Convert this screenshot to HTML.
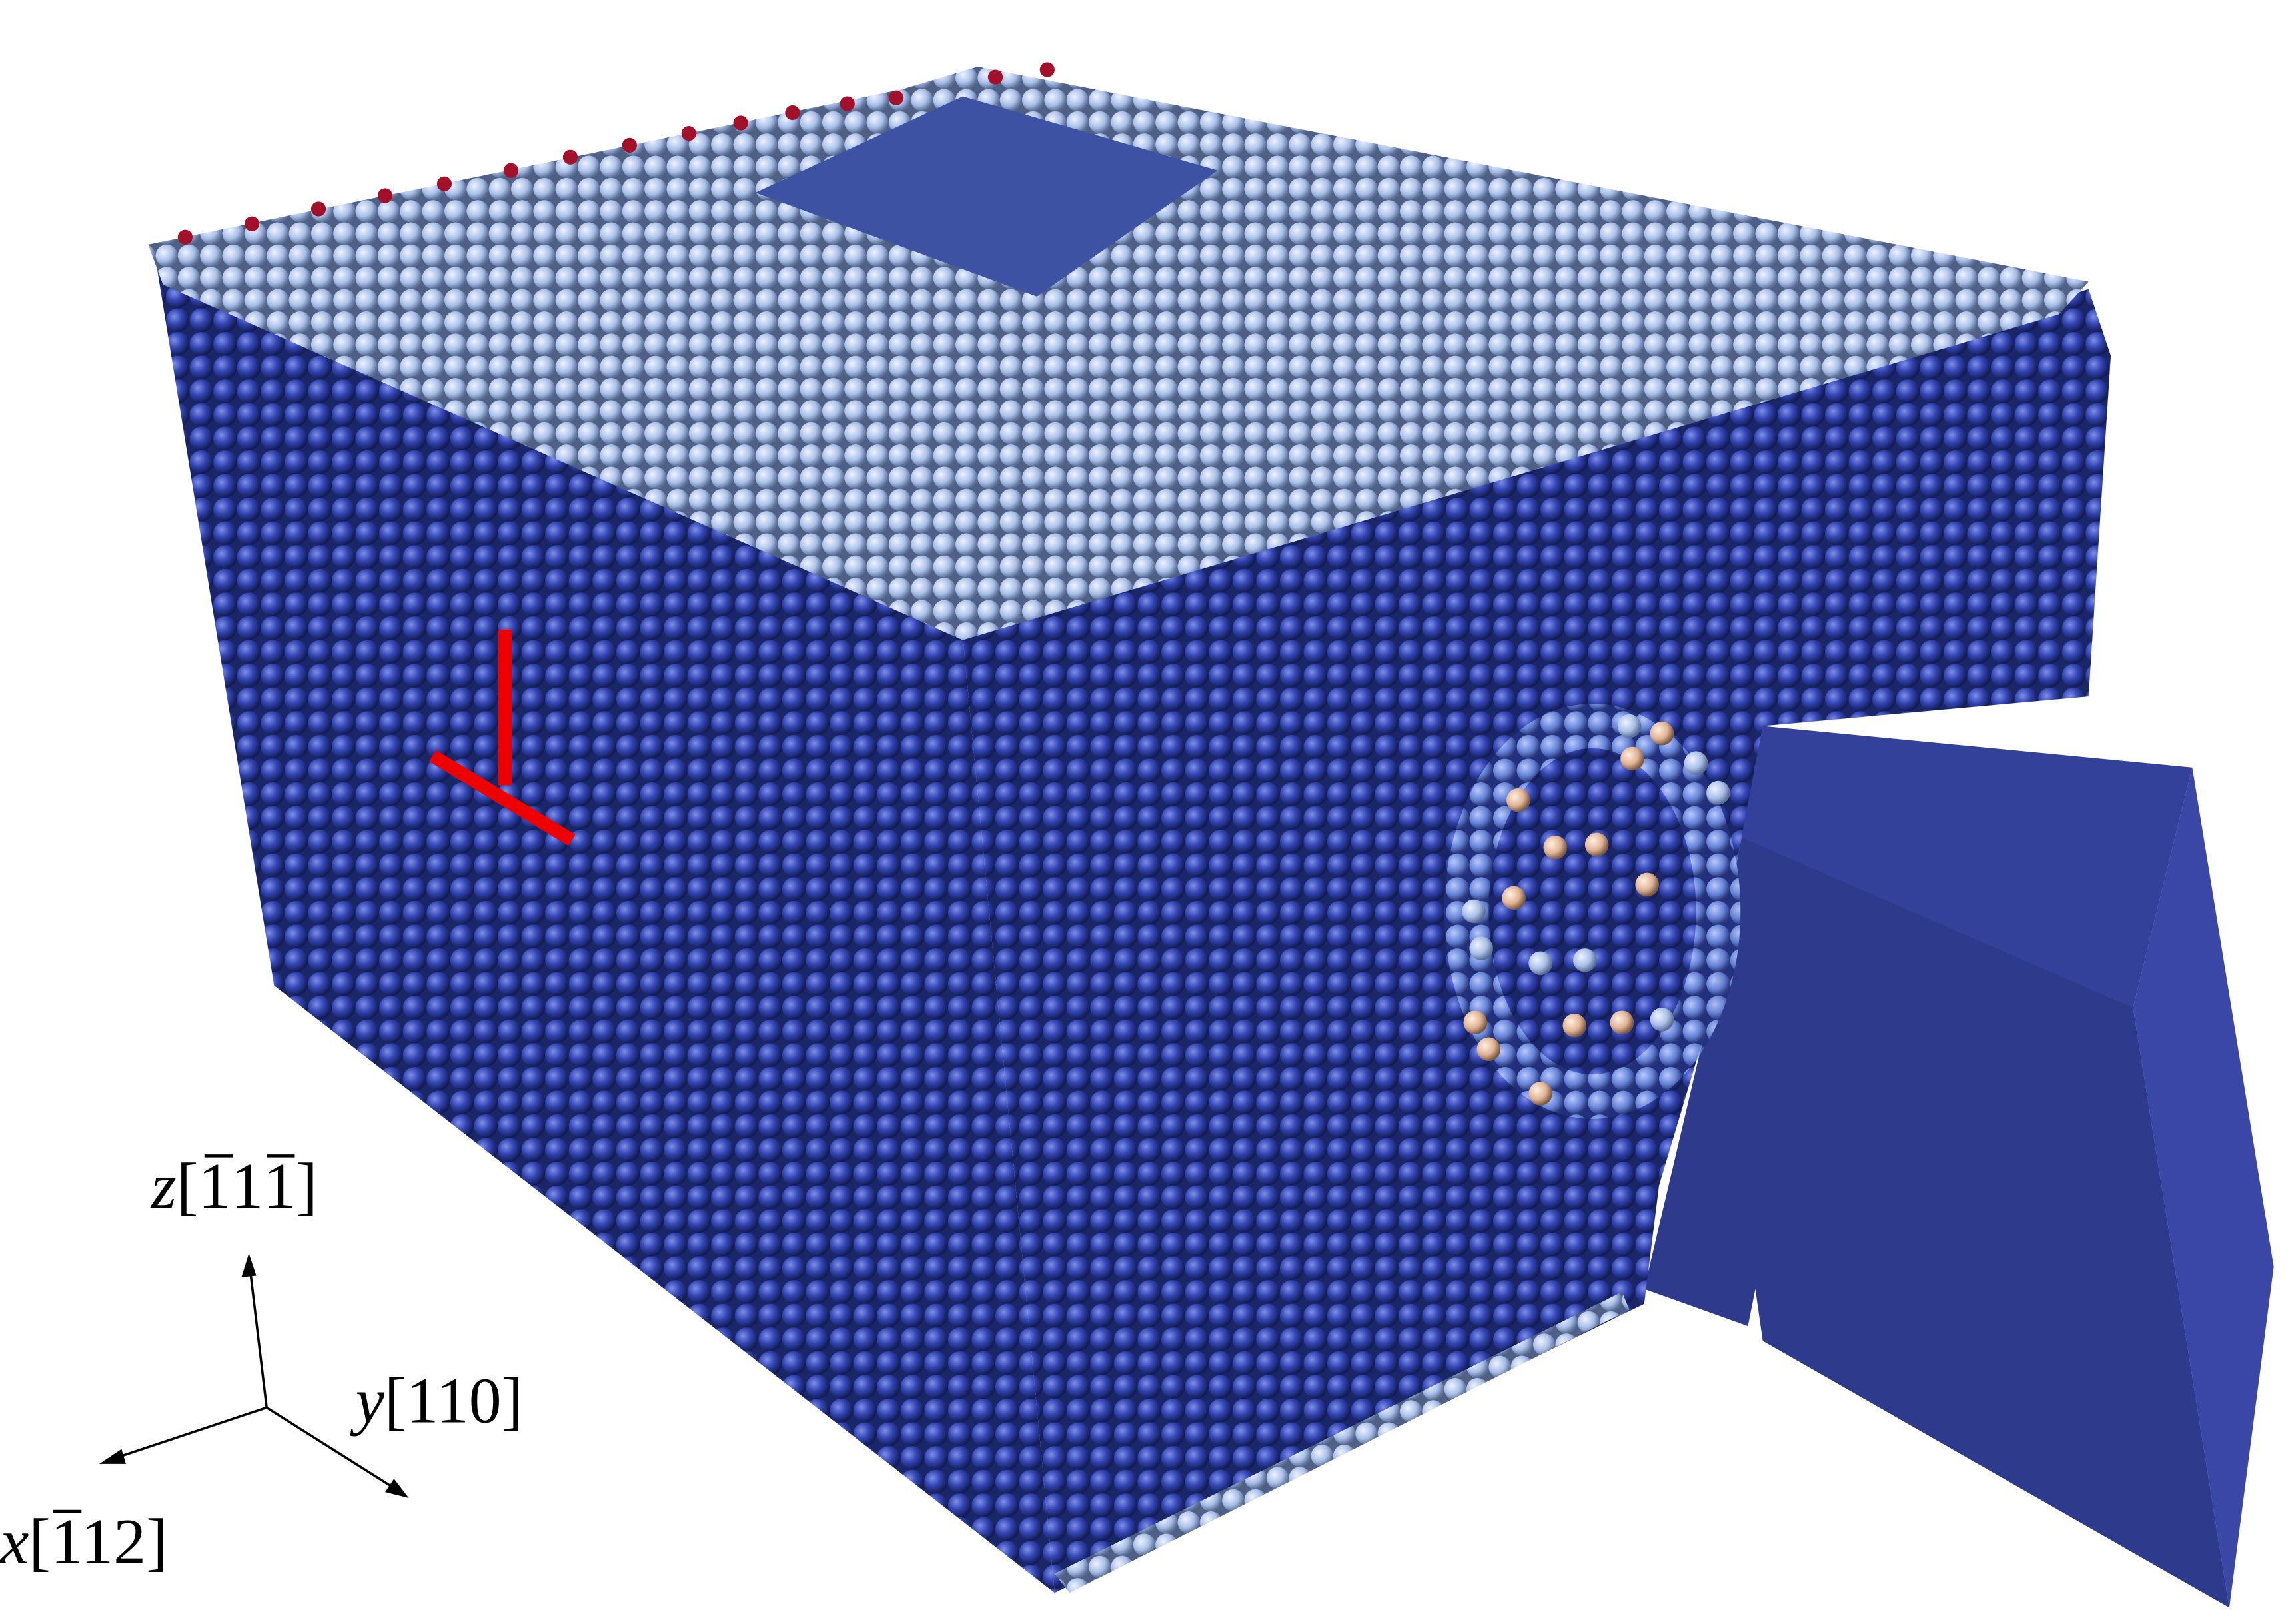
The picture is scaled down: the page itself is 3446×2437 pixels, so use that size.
<!DOCTYPE html>
<html><head><meta charset="utf-8"><style>
html,body{margin:0;padding:0;background:#fff;}
svg{display:block;}
text{font-family:"Liberation Serif",serif;}
</style></head><body>
<svg width="3446" height="2437" viewBox="0 0 1550 1096" preserveAspectRatio="none" xmlns="http://www.w3.org/2000/svg">
<defs>
<radialGradient id="gDark" cx="35%" cy="35%" r="65%"><stop offset="0" stop-color="#7f8ee8"/><stop offset="0.5" stop-color="#3346b4"/><stop offset="1" stop-color="#131c55"/></radialGradient>
<radialGradient id="gLight" cx="35%" cy="35%" r="65%"><stop offset="0" stop-color="#eef3ff"/><stop offset="0.6" stop-color="#a9bfe8"/><stop offset="1" stop-color="#5a6d95"/></radialGradient>
<radialGradient id="gMid" cx="35%" cy="35%" r="65%"><stop offset="0" stop-color="#c3d4ff"/><stop offset="0.6" stop-color="#6f8fe0"/><stop offset="1" stop-color="#2c3c7e"/></radialGradient>
<radialGradient id="gTan" cx="35%" cy="35%" r="65%"><stop offset="0" stop-color="#fff0e0"/><stop offset="0.6" stop-color="#e0b395"/><stop offset="1" stop-color="#7a5a45"/></radialGradient>
<pattern id="pDark" width="16" height="16" patternUnits="userSpaceOnUse"><rect width="16" height="16" fill="#1b2668"/><circle cx="8" cy="8" r="8" fill="url(#gDark)"/></pattern>
<pattern id="pLight" width="15" height="15" patternUnits="userSpaceOnUse"><rect width="15" height="15" fill="#4f5f86"/><circle cx="7.5" cy="7.5" r="7.5" fill="url(#gLight)"/></pattern>
<pattern id="pMid" width="16" height="16" patternUnits="userSpaceOnUse"><rect width="16" height="16" fill="#223080"/><circle cx="8" cy="8" r="8" fill="url(#gMid)"/></pattern>
</defs>
<rect width="1550" height="1096" fill="#fff"/>
<polygon points="1110,870 1150,700 1190,490 1440,680 1505,1085 1190,905 1185,870 1180,895" fill="#2e3a8c"/>
<polygon points="1190,490 1480,518 1440,680 1175,565" fill="#34419a"/>
<polygon points="1480,518 1535,855 1505,1085 1440,680" fill="#3a47a6"/>
<polygon points="105,175 650,430 712,1075 185,665" fill="url(#pDark)"/>
<polygon points="650,430 1410,195 1425,240 1410,470 1190,490 1150,700 1120,800 1110,880 712,1075" fill="url(#pDark)"/>
<polygon points="712,1062 1095,872 1100,884 722,1075" fill="url(#pLight)"/>
<polygon points="100,165 610,60 660,45 1410,190 1390,212 650,432 110,192" fill="url(#pLight)"/>
<polygon points="510,130 650,65 822,115 700,200" fill="#3e52a3"/>
<ellipse cx="1075" cy="615" rx="85" ry="125" fill="none" stroke="url(#pMid)" stroke-width="30" opacity="0.85"/>
<g fill="url(#gTan)">
<circle cx="1050" cy="572" r="8"/><circle cx="1078" cy="570" r="8"/><circle cx="1022" cy="606" r="8"/><circle cx="1112" cy="597" r="8"/><circle cx="1063" cy="692" r="8"/><circle cx="1095" cy="690" r="8"/><circle cx="1040" cy="738" r="8"/><circle cx="1122" cy="495" r="8"/><circle cx="1102" cy="512" r="8"/><circle cx="1025" cy="540" r="8"/><circle cx="996" cy="690" r="8"/><circle cx="1005" cy="708" r="8"/>
</g>
<g fill="url(#gLight)">
<circle cx="1100" cy="490" r="8"/><circle cx="1145" cy="515" r="8"/><circle cx="1160" cy="535" r="8"/><circle cx="1040" cy="650" r="8"/><circle cx="1070" cy="648" r="8"/><circle cx="1122" cy="688" r="8"/><circle cx="995" cy="615" r="8"/><circle cx="1000" cy="640" r="8"/>
</g>
<g fill="#a3102a">
<circle cx="125" cy="160" r="5"/><circle cx="170" cy="151" r="5"/><circle cx="215" cy="141" r="5"/><circle cx="260" cy="132" r="5"/><circle cx="300" cy="124" r="5"/><circle cx="345" cy="115" r="5"/><circle cx="385" cy="106" r="5"/><circle cx="425" cy="98" r="5"/><circle cx="465" cy="90" r="5"/><circle cx="500" cy="83" r="5"/><circle cx="535" cy="76" r="5"/><circle cx="572" cy="70" r="5"/><circle cx="605" cy="66" r="5"/><circle cx="672" cy="52" r="5"/><circle cx="707" cy="47" r="5"/>
</g>
<g stroke="#ee0000" stroke-width="9" stroke-linecap="butt">
<line x1="341" y1="425" x2="341" y2="530"/>
<line x1="292" y1="510" x2="386" y2="567"/>
</g>
<g stroke="#000" stroke-width="1.6" fill="none">
<line x1="180" y1="950" x2="168" y2="850"/>
<line x1="180" y1="950" x2="72" y2="986"/>
<line x1="180" y1="950" x2="272" y2="1008"/>
</g>
<g fill="#000">
<polygon points="168,846 163,862 173,861"/>
<polygon points="67,988 82,978 85,988"/>
<polygon points="276,1011 260,1007 266,998"/>
</g>
<text x="102" y="815" font-size="44" font-style="italic">z<tspan font-style="normal">[1</tspan><tspan font-style="normal">1</tspan><tspan font-style="normal">1]</tspan></text>
<g stroke="#000" stroke-width="2">
<line x1="138" y1="780" x2="157" y2="780"/>
<line x1="180" y1="780" x2="199" y2="780"/>
</g>
<text x="240" y="960" font-size="44" font-style="italic">y<tspan font-style="normal">[110]</tspan></text>
<text x="0" y="1055" font-size="44" font-style="italic">x<tspan font-style="normal">[112]</tspan></text>
<line x1="36" y1="1020" x2="55" y2="1020" stroke="#000" stroke-width="2"/>
</svg>
</body></html>
